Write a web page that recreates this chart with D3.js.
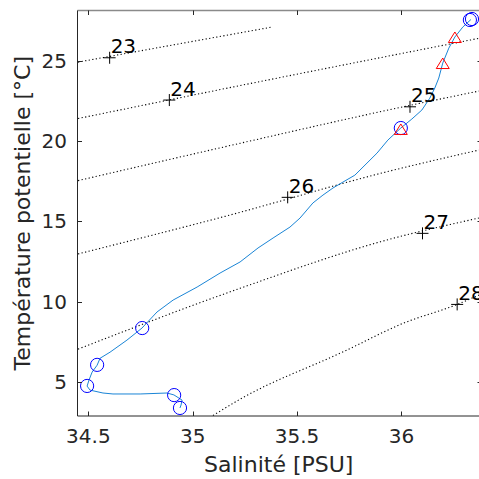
<!DOCTYPE html>
<html><head><meta charset="utf-8">
<script src="https://cdn.jsdelivr.net/npm/d3@7"></script>
<style>html,body{margin:0;padding:0;background:#fff;overflow:hidden}</style>
</head><body>
<script>
// ---- data ----
const xTicks = [34.5, 35, 35.5, 36];
const yTicks = [5, 10, 15, 20, 25];
const xLimits = [34.448, 36.386];
const yLimits = [2.9, 28.12];

// T-S profile (salinity, potential temperature)
const profileS = [36.333,36.294,36.256,36.227,36.198,36.179,36.160,36.136,36.098,36.050,35.997,35.935,35.883,35.835,35.777,35.720,35.672,35.624,35.576,35.514,35.466,35.385,35.313,35.227,35.131,35.021,34.906,34.829,34.757,34.685,34.604,34.556,34.542,34.518,34.503,34.494,34.508,34.570,34.618,34.748,34.877,34.910,34.949,34.944,34.939];
const profileT = [27.56,27.09,26.47,25.78,24.85,23.92,23.30,22.67,21.93,21.37,20.81,20.06,19.25,18.63,17.88,17.45,17.08,16.64,16.15,15.21,14.65,13.97,13.35,12.48,11.79,10.92,10.11,9.37,8.37,7.62,6.87,6.49,6.06,5.63,5.13,4.76,4.51,4.33,4.27,4.27,4.33,4.21,3.89,3.58,3.40];

// circle markers
const circleS = [36.328, 36.338, 35.997, 34.758, 34.542, 34.494, 34.911, 34.939];
const circleT = [27.53, 27.59, 20.81, 8.37, 6.08, 4.77, 4.20, 3.40];

// triangle markers
const triS = [36.256, 36.198, 35.997];
const triT = [26.41, 24.79, 20.69];

// isopycnals (sigma)
const sigmaLevels = [23, 24, 25, 26, 27, 28];
const isoS = [
  [34.4507, 35.380],
  [34.4507, 35.2265, 36.371],
  [34.4507, 35.2265, 35.897, 36.371],
  [34.4507, 35.1786, 35.930, 36.371],
  [34.4507, 35.2265, 35.9114, 36.371],
  [35.097, 35.2265, 35.729, 36.007, 36.267, 36.371]
];
const isoT = [
  [24.91, 27.09],
  [21.40, 23.45, 26.39],
  [17.54, 19.86, 21.82, 23.11],
  [12.98, 15.40, 18.09, 19.44],
  [7.06, 10.84, 13.78, 15.21],
  [2.93, 3.94, 6.94, 8.66, 9.84, 10.42]
];
// label anchor points (plus markers)
const labelS = [34.602, 34.888, 36.041, 35.455, 36.101, 36.267];
const labelT = [25.18, 22.55, 22.13, 16.50, 14.26, 9.84];

const xLabel = "Salinité [PSU]";
const yLabel = "Température potentielle [°C]";

// ---- drawing ----
const W = 479, H = 479;
const L = 77.5, R = 482, T = 10.5, B = 416;
const font = "DejaVu Sans, sans-serif";
const axisColor = "#262626";

const svg = d3.select("body").append("svg").attr("width", W).attr("height", H)
  .style("font-family", font);

const x = d3.scaleLinear().domain(xLimits).range([L, R]);
const y = d3.scaleLinear().domain(yLimits).range([B, T]);

svg.append("defs").append("clipPath").attr("id", "clip")
  .append("rect").attr("x", L).attr("y", T).attr("width", R - L).attr("height", B - T);

const plot = svg.append("g").attr("clip-path", "url(#clip)");

// isopycnals
const line = d3.line().x(d => x(d[0])).y(d => y(d[1])).curve(d3.curveMonotoneX);
isoS.forEach((ss, i) => {
  const pts = ss.map((s, j) => [s, isoT[i][j]]);
  plot.append("path").attr("d", line(pts))
    .attr("fill", "none").attr("stroke", "#000").attr("stroke-width", 1.1)
    .attr("stroke-dasharray", "1.2,2.4");
});

// plus markers and labels
sigmaLevels.forEach((lv, i) => {
  const px = x(labelS[i]), py = y(labelT[i]);
  svg.append("path").attr("d", `M${px-6},${py}H${px+6}M${px},${py-6}V${py+6}`)
    .attr("stroke", "#000").attr("stroke-width", 1);
  svg.append("text").attr("x", px + 1).attr("y", py - 4.5)
    .attr("font-size", 20).attr("fill", "#000").text(lv);
});

// profile
const pline = d3.line().x(d => x(d[0])).y(d => y(d[1]));
plot.append("path").attr("d", pline(profileS.map((s, i) => [s, profileT[i]])))
  .attr("fill", "none").attr("stroke", "#1a85d6").attr("stroke-width", 1);

// circles
circleS.forEach((s, i) => {
  svg.append("circle").attr("cx", x(s)).attr("cy", y(circleT[i])).attr("r", 6.6)
    .attr("fill", "none").attr("stroke", "#0000FF").attr("stroke-width", 1);
});
// triangles
triS.forEach((s, i) => {
  const cx = x(s), cy = y(triT[i]);
  svg.append("path").attr("d", `M${cx},${cy-6}L${cx+6.5},${cy+4.5}L${cx-6.5},${cy+4.5}Z`)
    .attr("fill", "none").attr("stroke", "#FF0000").attr("stroke-width", 1);
});

// axes box
svg.append("line").attr("x1", L).attr("x2", R).attr("y1", T).attr("y2", T)
  .attr("stroke", "#8a8a8a").attr("stroke-width", 1.5);
svg.append("line").attr("x1", L).attr("x2", R).attr("y1", B).attr("y2", B)
  .attr("stroke", axisColor).attr("stroke-width", 1);
svg.append("line").attr("x1", L).attr("x2", L).attr("y1", T).attr("y2", B)
  .attr("stroke", axisColor).attr("stroke-width", 1);
svg.append("line").attr("x1", R).attr("x2", R).attr("y1", T).attr("y2", B)
  .attr("stroke", axisColor).attr("stroke-width", 1);

const tl = 4.5;
xTicks.forEach(v => {
  const px = Math.round(x(v)) + 0.5;
  svg.append("line").attr("x1", px).attr("x2", px).attr("y1", B).attr("y2", B - tl).attr("stroke", axisColor);
  svg.append("line").attr("x1", px).attr("x2", px).attr("y1", T).attr("y2", T + tl).attr("stroke", axisColor);
  svg.append("text").attr("x", x(v)).attr("y", 443).attr("text-anchor", "middle")
    .attr("font-size", 20).attr("fill", axisColor).text(v);
});
yTicks.forEach(v => {
  const py = Math.round(y(v)) + 0.5;
  svg.append("line").attr("x1", L).attr("x2", L + tl).attr("y1", py).attr("y2", py).attr("stroke", axisColor);
  svg.append("line").attr("x1", R).attr("x2", R - tl).attr("y1", py).attr("y2", py).attr("stroke", axisColor);
  svg.append("text").attr("x", 67).attr("y", y(v)).attr("text-anchor", "end")
    .attr("dominant-baseline", "central")
    .attr("font-size", 20).attr("fill", axisColor).text(v);
});

svg.append("text").attr("x", (L + R) / 2 - 1).attr("y", 472).attr("text-anchor", "middle")
  .attr("font-size", 22).attr("fill", axisColor).text(xLabel);
svg.append("text").attr("transform", `translate(30,${(T + B) / 2}) rotate(-90)`)
  .attr("text-anchor", "middle").attr("font-size", 22).attr("fill", axisColor).text(yLabel);
</script>
</body></html>
